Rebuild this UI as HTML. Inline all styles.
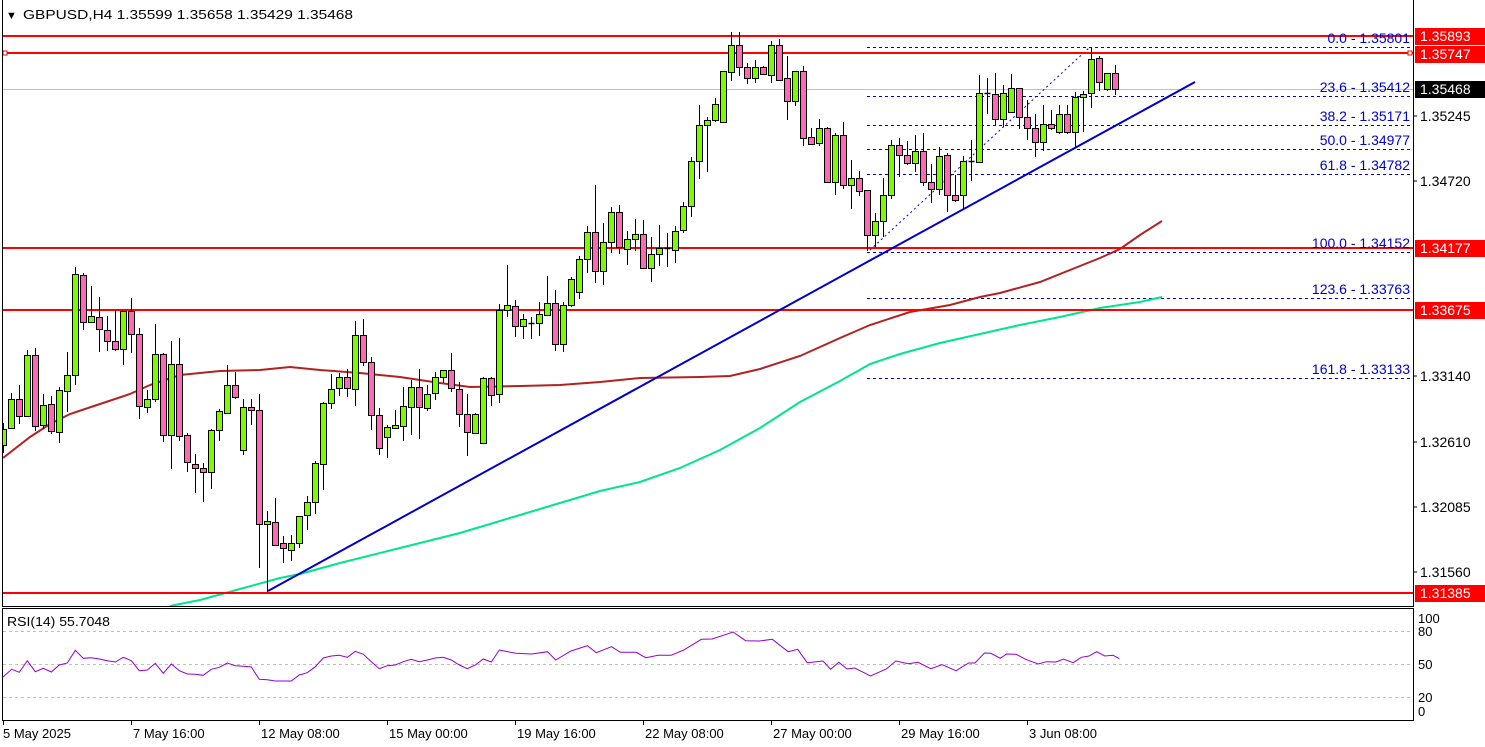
<!DOCTYPE html>
<html><head><meta charset="utf-8"><style>
html,body{margin:0;padding:0;background:#fff;}
svg{display:block;font-family:"Liberation Sans",sans-serif;}
</style></head><body>
<svg id="c" width="1485" height="747" xmlns="http://www.w3.org/2000/svg"></svg>
<script>
var G=[1,1,0,1,0,1,0,1,1,1,0,1,0,0,0,1,0,0,1,1,0,1,0,0,0,0,1,1,1,0,1,0,0,1,0,0,1,1,1,1,1,1,1,0,1,0,0,0,1,1,1,1,0,1,1,1,0,0,0,1,1,0,1,1,0,1,1,1,1,0,1,1,1,1,0,1,1,0,1,1,0,1,1,1,1,1,1,1,1,1,1,1,0,0,1,0,1,0,0,1,0,0,1,0,1,0,1,0,0,1,1,1,0,0,1,0,0,1,0,0,1,1,1,1,0,1,1,0,0,0,1,0,1,0,1,1,1,0,1,0];
var D=[[429,445,423,453],[399,428,393,429],[399,416,385,424],[355,416,350,417],[355,426,348,431],[405,425,394,429],[404,431,396,434],[390,432,387,443],[375,391,352,412],[274,375,267,385],[275,322,273,330],[316,322,286,323],[317,329,297,352],[330,341,316,351],[341,349,310,351],[311,349,311,365],[311,334,298,353],[334,406,328,419],[399,407,390,413],[354,399,324,402],[354,435,353,442],[364,435,341,469],[364,436,338,441],[435,462,433,472],[464,468,454,493],[468,472,463,502],[430,472,429,489],[411,430,409,441],[385,413,365,414],[385,397,372,399],[407,450,399,455],[407,410,399,425],[410,524,394,568],[521,524,511,592],[522,545,498,545],[543,548,536,563],[543,550,535,561],[516,543,516,548],[502,515,496,530],[463,502,461,514],[403,464,402,490],[389,403,374,409],[377,388,373,396],[377,388,369,397],[335,389,321,406],[335,362,319,366],[362,415,357,430],[415,448,408,455],[427,437,425,458],[425,428,410,428],[406,426,387,441],[387,407,380,435],[387,407,369,439],[394,408,385,411],[377,393,372,400],[370,377,370,383],[370,388,353,392],[389,414,382,427],[414,432,394,456],[414,433,413,434],[378,443,377,444],[378,395,377,406],[310,394,304,403],[305,310,265,317],[306,326,300,337],[319,326,314,339],[323,324,317,339],[314,323,302,336],[303,315,276,315],[303,344,290,351],[305,344,302,352],[279,305,277,307],[259,292,256,299],[232,259,226,273],[232,271,185,283],[242,271,223,285],[212,242,207,253],[212,247,205,254],[239,249,231,265],[234,239,219,251],[234,268,220,269],[254,268,237,282],[248,254,225,266],[248,249,233,267],[231,250,226,263],[206,230,202,233],[161,206,157,217],[125,161,105,179],[120,125,117,172],[104,120,98,122],[71,122,71,122],[45,72,32,81],[45,67,32,76],[67,78,63,84],[67,78,60,83],[67,74,66,75],[45,75,41,83],[45,80,39,81],[78,101,56,120],[71,101,71,106],[71,138,66,146],[137,144,128,145],[128,143,119,146],[128,182,127,183],[135,182,133,195],[135,185,122,189],[178,185,160,209],[178,191,171,196],[190,235,190,251],[221,235,213,247],[195,221,178,237],[145,195,140,199],[145,155,138,177],[155,163,141,165],[151,163,135,172],[151,182,133,186],[182,189,164,203],[156,189,147,195],[155,195,153,212],[195,200,175,202],[161,195,156,209],[161,162,140,181],[93,162,75,163],[93,94,78,114],[94,119,73,125],[93,119,85,127],[88,112,74,112],[88,117,88,129],[117,128,100,140],[128,142,114,157],[124,142,105,151],[124,128,110,130],[114,132,105,134],[114,132,105,134],[97,132,92,147],[94,97,91,132],[59,93,48,108],[58,82,56,91],[73,89,73,91],[73,89,65,95]];
var s='';
function L(x1,y1,x2,y2,c,w,da){s+='<line x1="'+x1+'" y1="'+y1+'" x2="'+x2+'" y2="'+y2+'" stroke="'+c+'" stroke-width="'+(w||1)+'"'+(da?' stroke-dasharray="'+da+'"':'')+'/>';}
function T(x,y,t,c,sz,a,tl){s+='<text x="'+x+'" y="'+y+'" fill="'+c+'" font-size="'+sz+'"'+(a?' text-anchor="'+a+'"':'')+(tl?' textLength="'+tl+'" lengthAdjust="spacingAndGlyphs"':'')+'>'+t+'</text>';}
function P(pts,c,w,da){s+='<polyline fill="none" stroke="'+c+'" stroke-width="'+w+'"'+(da?' stroke-dasharray="'+da+'"':'')+' points="'+pts.map(function(p){return p.join(',')}).join(' ')+'"/>';}
s+='<defs><clipPath id="m"><rect x="3" y="0" width="1410" height="606"/></clipPath></defs>';
L(2.5,0,2.5,606,'#000');L(1413.5,0,1413.5,606,'#000');L(2,606.5,1414,606.5,'#000');
L(2.5,608,2.5,720,'#000');L(1413.5,608,1413.5,720,'#000');L(2,608.5,1414,608.5,'#000');L(2,720.5,1414,720.5,'#000');
s+='<g clip-path="url(#m)">';
L(3,89.5,1413,89.5,'#c0c0c0');
[47,96,125,149,174,252,298,378].forEach(function(y){L(867,y+.5,1413,y+.5,'#0000cc',1,'3,3');});
L(870,250,1090,47,'#0000cc',1,'2,3');
P([[3,458],[30,437],[50,424],[70,414],[100,404],[130,394],[150,385],[180,375],[220,371],[260,370],[290,367],[320,370],[360,373],[400,377],[440,383],[470,387],[520,386],[560,385],[600,382],[640,378],[700,377],[730,376],[760,369],[800,356],[840,338],[870,325],[910,312],[950,305],[980,297],[1000,293],[1040,282],[1080,266],[1100,258],[1120,249],[1140,235],[1162,221]],'#b22222',2);
P([[170,606],[200,600],[240,589],[280,578],[300,574],[340,563],[400,548],[460,533],[520,515],[560,503],[600,491],[640,482],[680,468],[720,450],[760,428],[800,402],[840,381],[870,364],[900,354],[940,343],[980,334],[1020,325],[1060,317],[1100,308],[1140,302],[1162,297]],'#00e58c',2);
[36,53,248,310,593].forEach(function(y){L(3,y,1413,y,'#ff0000',2);});
s+='<rect x="3" y="51" width="4" height="4" fill="#fff" stroke="#f00"/><rect x="1408" y="51" width="4" height="4" fill="#fff" stroke="#f00"/>';
L(268,591,1195,82,'#0000cc',2);
for(var i=0;i<D.length;i++){var d=D[i],x=Math.round(3.3+8*i)+.5;
L(x,d[2],x,d[3],'#000');
var h=Math.max(d[1]-d[0],1);
if(d[1]-d[0]<=1){L(x-3,d[0]+.5,x+3,d[0]+.5,'#000',1.5);}
else s+='<rect x="'+(x-3)+'" y="'+(d[0]+.5)+'" width="6" height="'+h+'" fill="'+(G[i]?'#7cfc00':'#ff69b4')+'" stroke="#000"/>';}
s+='</g>';
[['0.0 - 1.35801',47],['23.6 - 1.35412',96],['38.2 - 1.35171',125],['50.0 - 1.34977',149],['61.8 - 1.34782',174],['100.0 - 1.34152',252],['123.6 - 1.33763',298],['161.8 - 1.33133',378]].forEach(function(f){T(1410,f[1]-4,f[0],'#0000cc',14,'end');});
[['1.35245',116],['1.34720',181],['1.33140',376],['1.32610',442],['1.32085',507],['1.31560',572]].forEach(function(a){L(1413,a[1],1417,a[1],'#000');T(1420,a[1]+5,a[0],'#000',14);});
[['1.35893',36,'#f00'],['1.35747',54,'#f00'],['1.35468',89,'#000'],['1.34177',248,'#f00'],['1.33675',310,'#f00'],['1.31385',593,'#f00']].forEach(function(a){s+='<rect x="1415" y="'+(a[1]-8)+'" width="70" height="17" fill="'+a[2]+'"/>';T(1420,a[1]+5,a[0],'#fff',14);});
T(6,19,'▼','#000',11);
T(23,19,'GBPUSD,H4 1.35599 1.35658 1.35429 1.35468','#000',13,null,330);
[631.5,664.5,697.5].forEach(function(y){L(3,y,1413,y,'#c0c0c0',1,'3,3');});
T(7,626,'RSI(14) 55.7048','#000',13,null,103);
[['100',623],['80',636],['50',669],['20',702],['0',716]].forEach(function(a){T(1418,a[1],a[0],'#000',13);});
var r1=[[8,262],[35,238],[58,247],[82,212],[106,245],[130,235],[154,246],[178,225],[202,219],[226,181],[250,205],[274,203],[298,207],[322,212],[346,216],[370,202],[394,212],[418,242],[442,240],[466,220],[490,250],[514,222],[538,242],[562,252],[586,253],[610,256],[634,238],[658,232],[682,219],[706,227],[730,229],[754,231],[778,268],[802,269],[826,273],[850,273],[874,273],[898,255],[922,248],[946,230],[970,204],[994,198],[1018,196],[1042,202],[1066,184],[1090,193],[1114,215],[1138,236],[1162,227],[1186,225],[1210,215],[1234,208],[1258,215],[1282,210],[1306,204],[1330,202],[1354,210],[1378,225],[1402,236],[1426,225],[1450,207],[1474,216],[1498,180]].map(function(p){return[(p[0]/3).toFixed(1),(590+p[1]/3).toFixed(1)];});
var r2=[[25,190],[50,192],[75,185],[88,210],[112,183],[138,167],[152,188],[176,170],[190,187],[215,187],[230,203],[250,196],[270,196],[290,180],[318,148],[335,147],[368,126],[388,152],[410,153],[430,148],[455,185],[470,178],[485,218],[510,213],[522,238],[535,217],[548,237],[560,234],[585,258],[610,237],[625,213],[645,221],[660,217],[680,236],[698,224],[720,242],[740,219],[750,219],[765,189],[775,190],[790,205],[800,192],[815,193],[830,208],[850,222],[863,215],[878,216],[890,207],[905,218],[918,202],[930,198],[942,185],[955,198],[968,196],[978,206]].map(function(p){return[(500+p[0]/1.579).toFixed(1),(590+p[1]/3).toFixed(1)];});
P(r1.concat(r2),'#9400d3',1);
[['5 May 2025',3],['7 May 16:00',131],['12 May 08:00',259],['15 May 00:00',387],['19 May 16:00',515],['22 May 08:00',643],['27 May 00:00',771],['29 May 16:00',899],['3 Jun 08:00',1027]].forEach(function(a){L(a[1]+.5,720,a[1]+.5,725,'#000');T(a[1]+(a[1]==3?0:2),738,a[0],'#000',13);});
document.getElementById('c').innerHTML=s;
</script>
</body></html>
